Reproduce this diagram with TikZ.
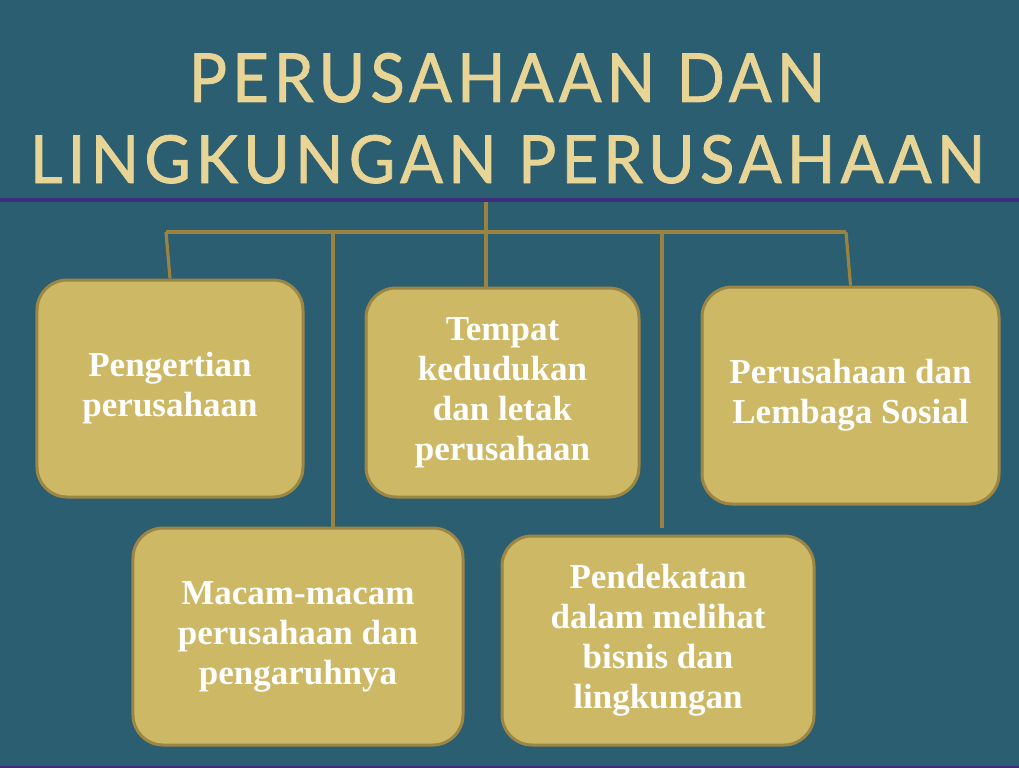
\documentclass[tikz,border=0pt]{standalone}
\usepackage{fontspec}
\usepackage{graphicx}
\setmainfont{Liberation Serif}
\newfontfamily\titlefont[LetterSpace=8,FakeBold=1.2]{Lato}
\definecolor{bgteal}{HTML}{2A5E70}
\definecolor{purpline}{HTML}{3E2C7C}
\definecolor{boxfill}{HTML}{CDB865}
\definecolor{boxline}{HTML}{9C8644}
\definecolor{connline}{HTML}{9A8340}
\definecolor{titlegold}{HTML}{E8D495}
\tikzset{
  box/.style={draw=boxline, fill=boxfill, line width=3bp, rounded corners=30bp,
    inner sep=0pt, align=center, text=white,
    font={\fontsize{35bp}{40bp}\selectfont\bfseries}},
  conn/.style={draw=connline, line width=3.2bp},
  titletext/.style={inner sep=0pt, anchor=base, text=titlegold, font=\titlefont}
}
\begin{document}
\begin{tikzpicture}[x=1bp,y=-1bp]
\useasboundingbox (0,0) rectangle (1019,768);
\fill[bgteal] (0,0) rectangle (1019,768);
% title
\node[titletext] (t1) at (507,102) {\resizebox{636bp}{49bp}{PERUSAHAAN DAN}};
\node[titletext] (t2) at (507.5,183) {\resizebox{955bp}{48bp}{LINGKUNGAN PERUSAHAAN}};
% rules
\draw[purpline, line width=4bp] (0,200) -- (1019,200);
\draw[purpline, line width=3bp] (0,767) -- (1019,767);
% connector coordinates
\coordinate (hub) at (486,202);
\coordinate (barL) at (166,232);
\coordinate (barR) at (846,232);
\coordinate (v1) at (333,232);
\coordinate (v2) at (662,232);
\coordinate (v2end) at (662,528);
% boxes
\node[box, minimum width=266bp, minimum height=217bp] (b1) at (170,388.5)
  {Pengertian\\perusahaan};
\node[box, minimum width=273bp, minimum height=209bp] (b2) at (502.5,392.5)
  {Tempat\\kedudukan\\dan letak\\perusahaan};
\node[box, minimum width=297bp, minimum height=217bp] (b3) at (850.5,395.5)
  {Perusahaan dan\\Lembaga Sosial};
\node[box, minimum width=330bp, minimum height=217bp] (b4) at (298,636.5)
  {Macam-macam\\perusahaan dan\\pengaruhnya};
\node[box, minimum width=312bp, minimum height=209bp] (b5) at (658,640.5)
  {Pendekatan\\dalam melihat\\bisnis dan\\lingkungan};
% connectors
\draw[conn] (barL) -- (barR);
\draw[conn] (hub) -- (hub |- b2.north);
\draw[conn] (barL) -- (b1.north);
\draw[conn] (barR) -- (b3.north);
\draw[conn] (v1) -- (v1 |- b4.north);
\draw[conn] (v2) -- (v2end);
\end{tikzpicture}
\end{document}
